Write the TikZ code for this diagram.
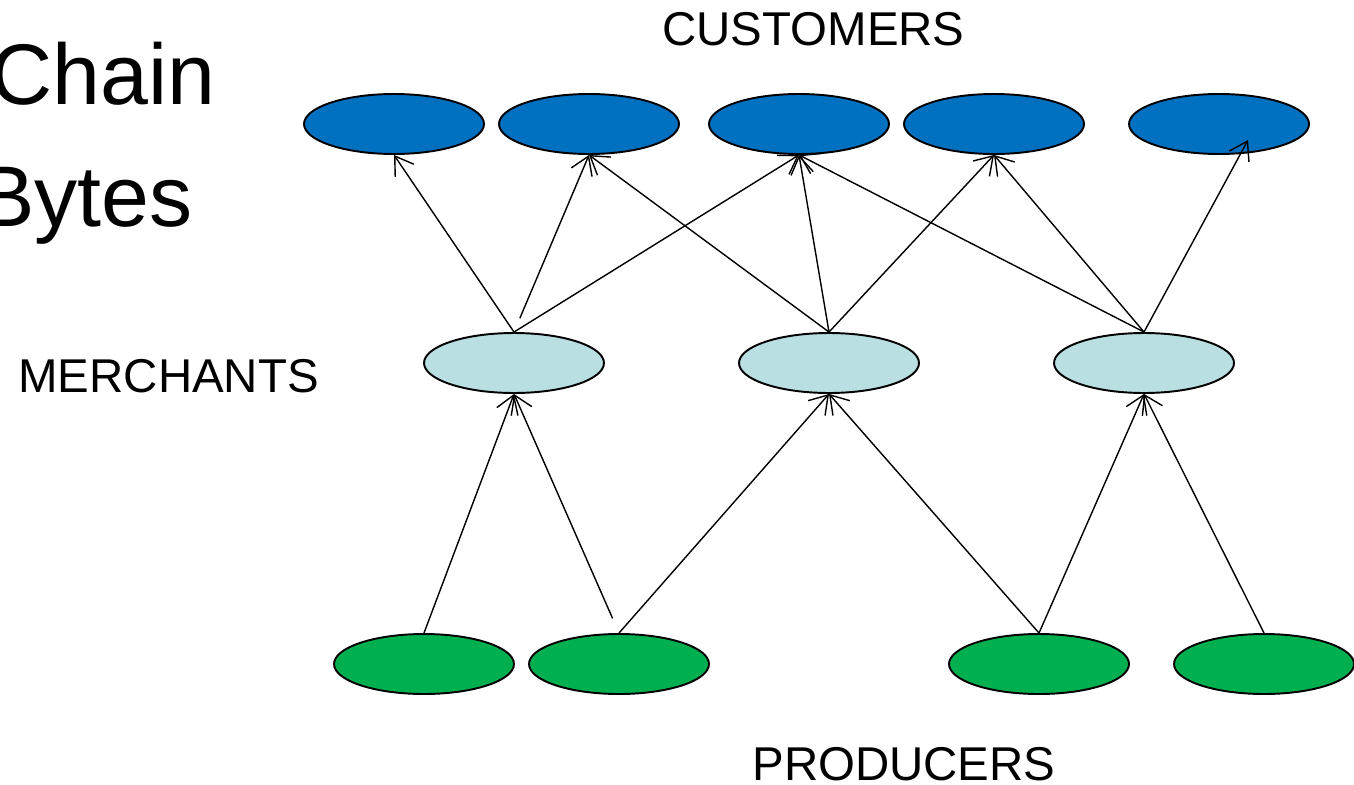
\documentclass[tikz,border=0pt]{standalone}
\usepackage{fontspec}
\setmainfont{Liberation Sans}
\usetikzlibrary{shapes.geometric,arrows.meta}
\definecolor{custblue}{RGB}{0,112,192}
\definecolor{merchcyan}{RGB}{185,223,227}
\definecolor{prodgreen}{RGB}{0,176,80}
\tikzset{
  actor/.style={ellipse, draw, line width=1.1pt, minimum width=3.6cm, minimum height=1.2cm, inner sep=0pt},
  customer/.style={actor, fill=custblue},
  merchant/.style={actor, fill=merchcyan},
  producer/.style={actor, fill=prodgreen},
  flow/.style={->, line width=0.8pt},
  layer/.style={font=\fontsize{27}{32}\selectfont, anchor=base west, inner sep=0pt}
}
\begin{document}
\begin{tikzpicture}[x=0.02cm, y=-0.02cm, >={Straight Barb[length=3.5mm,width=4.5mm]}]
    \useasboundingbox (0,0) rectangle (1354,784);

    % 1. Title (cut at the left edge)
    \node[anchor=base east, inner sep=0pt, font=\fontsize{49}{58}\selectfont] (title1) at (216,104) {Chain};
    \node[anchor=base east, inner sep=0pt, font=\fontsize{49}{58}\selectfont] (title2) at (193,226) {Bytes};

    % 2. Layer labels
    \node[layer] (lcust) at (662,46) {CUSTOMERS};
    \node[layer] (lmerch) at (18,392) {MERCHANTS};
    \node[layer] (lprod) at (752,780) {PRODUCERS};

    % 3. Customers
    \node[customer] (c1) at (394,124) {};
    \node[customer] (c2) at (589,124) {};
    \node[customer] (c3) at (799,124) {};
    \node[customer] (c4) at (994,124) {};
    \node[customer] (c5) at (1219,124) {};

    % 4. Merchants
    \node[merchant] (m1) at (514,363) {};
    \node[merchant] (m2) at (829,363) {};
    \node[merchant] (m3) at (1144,363) {};

    % 5. Producers
    \node[producer] (p1) at (424,664) {};
    \node[producer] (p2) at (619,664) {};
    \node[producer] (p3) at (1039,664) {};
    \node[producer] (p4) at (1264,664) {};

    % 6. Producers -> merchants
    \draw[flow] (p1.north) -- (m1.south);
    \draw[flow, shorten <=0.32cm] (p2.north) -- (m1.south);
    \draw[flow] (p2.north) -- (m2.south);
    \draw[flow] (p3.north) -- (m2.south);
    \draw[flow] (p3.north) -- (m3.south);
    \draw[flow] (p4.north) -- (m3.south);

    % 7. Merchants -> customers
    \draw[flow] (m1.north) -- (c1.south);
    \draw[flow, shorten <=0.3cm] (m1.north) -- (c2.south);
    \draw[flow] (m1.north) -- (c3.south);
    \draw[flow] (m2.north) -- (c2.south);
    \draw[flow] (m2.north) -- (c3.south);
    \draw[flow] (m2.north) -- (c4.south);
    \draw[flow] (m3.north) -- (c3.south);
    \draw[flow] (m3.north) -- (c4.south);
    \draw[flow] (m3.north) -- ([shift={(29,16)}]c5.center);
\end{tikzpicture}
\end{document}
